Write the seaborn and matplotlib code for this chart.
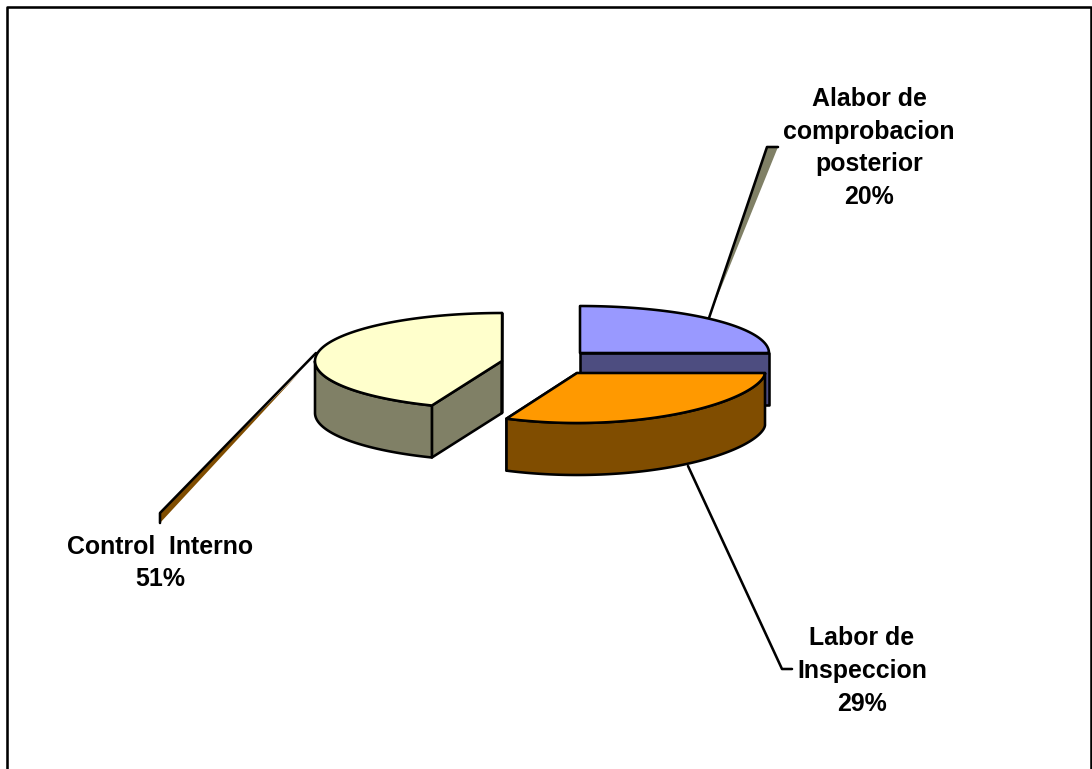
import numpy as np
import matplotlib
matplotlib.use("Agg")
import matplotlib.pyplot as plt
import seaborn as sns

# Share of each control activity, in percent
categories = ["Alabor de\ncomprobacion\nposterior", "Labor de\nInspeccion", "Control  Interno"]
values = [20, 29, 51]

# Surface colours: top face, then side wall
top_colors = ["#9999FF", "#FF9900", "#FFFFCC"]
side_colors = ["#4D4D80", "#804D00", "#808066"]

# Exploded slice apexes and the perspective stretch applied to each sweep
apex_x = [580, 577, 502]
apex_y = [353, 373, 361]
sweep_stretch = [1.25, 1.073, 0.8606]
radius_x = [189, 188, 187]
radius_y = [47, 50, 48]
curve_power = [1.0, 1.2, 1.0]
depth = 52
edge = 1.85

label_x = [869, 862, 160]
label_y = [148, 671, 563]

sns.set_theme(style="white")
plt.rcParams["font.family"] = ["Liberation Sans", "DejaVu Sans"]

fig, ax = plt.subplots(figsize=(10.92, 7.69), dpi=100)
ax.set_position([0, 0, 1, 1])
ax.set_xlim(0, 1092)
ax.set_ylim(769, 0)
ax.set_axis_off()

# Chart frame, open at the lower edge
ax.plot([7, 7, 1091, 1091], [769, 7, 7, 769], color="black", lw=edge, zorder=1)

# Cumulative start and end angle of each slice, clockwise from twelve o'clock
sweeps = np.array(values) / sum(values) * 360 * np.array(sweep_stretch)
ends = np.cumsum(sweeps)
starts = ends - sweeps


def arc(i, a, b):
    t = np.radians(np.linspace(a, b, 160))
    c = np.cos(t)
    return (apex_x[i] + radius_x[i] * np.sin(t),
            apex_y[i] - radius_y[i] * np.sign(c) * np.abs(c) ** curve_power[i])


def face(xs, ys, color, z):
    ax.fill(xs, ys, facecolor=color, edgecolor="black", lw=edge, joinstyle="round", zorder=z)


def draw_slice(i, z):
    cx, cy = apex_x[i], apex_y[i]
    a, b = starts[i], ends[i]
    # Flat cut faces running back to the apex
    for ang in (a, b):
        ex, ey = arc(i, ang, ang)
        ex, ey = ex[0], ey[0]
        if np.cos(np.radians(ang)) < 0.99 or ang > 300:
            if ang == a and i == 1:
                continue
            face([cx, ex, ex, cx], [cy, ey, ey + depth, cy + depth], side_colors[i], z)
    # Curved outer wall, visible on the near half only
    lo, hi = max(a, 90), min(b, 270)
    if hi > lo:
        wx, wy = arc(i, lo, hi)
        face(np.r_[wx, wx[::-1]], np.r_[wy, wy[::-1] + depth], side_colors[i], z)
    # Top face
    tx, ty = arc(i, a, b)
    face(np.r_[cx, tx], np.r_[cy, ty], top_colors[i], z + 0.5)


# Leader lines and their tapered shadows
ax.fill([767, 778, 712], [147, 147, 310], color=side_colors[2], lw=0, zorder=2)
ax.plot([709, 767, 778], [318, 147, 147], color="black", lw=edge, zorder=3)
ax.fill([160, 160, 300], [513, 523, 372], color=side_colors[1], lw=0, zorder=2)
ax.plot([316, 160, 160], [353, 513, 523], color="black", lw=edge, zorder=3)
ax.plot([688, 782, 792], [466, 669, 669], color="black", lw=edge, zorder=3)

draw_slice(2, 4)
draw_slice(0, 5)
draw_slice(1, 6)

# Category labels with their percentages
for name, v, x, y in zip(categories, values, label_x, label_y):
    ax.text(x, y, f"{name}\n{v}%", ha="center", va="center", fontsize=17.95,
            fontweight="bold", color="black", linespacing=1.46, zorder=8)

sns.despine(ax=ax, left=True, bottom=True)
fig.savefig("out.png", dpi=100, facecolor="white")
